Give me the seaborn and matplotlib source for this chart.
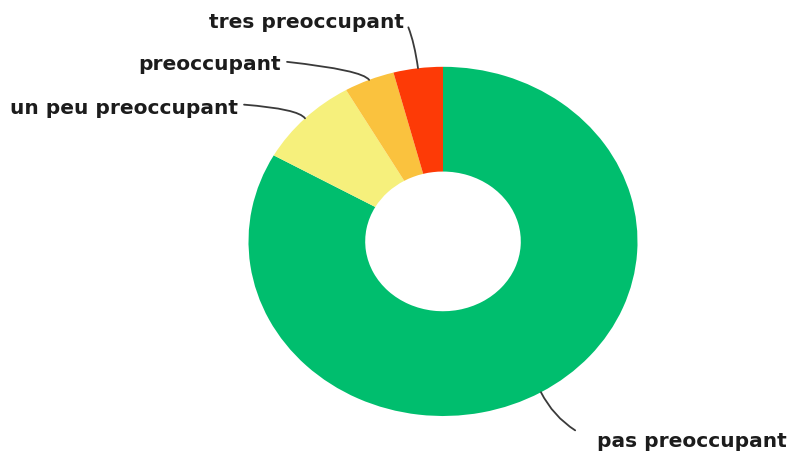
import matplotlib
matplotlib.use('Agg')
import matplotlib.pyplot as plt
import seaborn as sns
import numpy as np

# valeurs (en %)
categories = ['pas preoccupant', 'un peu preoccupant', 'preoccupant', 'tres preoccupant']
valeurs = [83.2, 8.5, 4.2, 4.1]
couleurs = ['#00BE6E', '#F6F07C', '#FAC23E', '#FD3A06']

sns.set_theme(style='white')
plt.rcParams['font.family'] = ['DejaVu Sans']

W, H = 790, 455
fig = plt.figure(figsize=(W / 100, H / 100), dpi=100)
ax = fig.add_axes([0, 0, 1, 1])

wedges, _ = ax.pie(valeurs, colors=couleurs, startangle=90, counterclock=False,
                   radius=1, wedgeprops=dict(width=0.6, linewidth=0))

# centre et rayons du donut en pixels (image etiree horizontalement)
cx, cy, rx, ry = 443, 241.4, 194.5, 174.6
ax.set_aspect('auto')
ax.set_xlim(-cx / rx, (W - cx) / rx)
ax.set_ylim(-(H - cy) / ry, cy / ry)
ax.axis('off')


def px(x, y):
    # pixel -> coordonnees donnees
    return (x - cx) / rx, (cy - y) / ry


# position du texte, alignement, point de depart du trait, angles du trait, retrait
etiquettes = {
    'pas preoccupant': (px(597, 442), 'left', (0, 0.55), -20, -63, 15),
    'un peu preoccupant': (px(238, 108), 'right', (1, 0.7), -4, -55, 2),
    'preoccupant': (px(281, 65), 'right', (1, 0.7), -6, -55, 2),
    'tres preoccupant': (px(404, 22), 'right', (1, 0.7), -60, -82, 2),
}

for w, nom in zip(wedges, categories):
    ang = np.deg2rad((w.theta1 + w.theta2) / 2)
    pt = (np.cos(ang), np.sin(ang))
    pos, ha, rel, a_a, a_b, shr = etiquettes[nom]
    ax.annotate(nom, xy=pt, xytext=pos, ha=ha, va='center',
                fontsize=14.5, fontweight='bold', color='#1c1c1c',
                arrowprops=dict(arrowstyle='-', color='#3a3a3a', lw=1.3,
                                shrinkA=shr, shrinkB=0, relpos=rel,
                                connectionstyle=f'angle3,angleA={a_a},angleB={a_b}'))

fig.savefig('out.png', dpi=100, facecolor='white')
